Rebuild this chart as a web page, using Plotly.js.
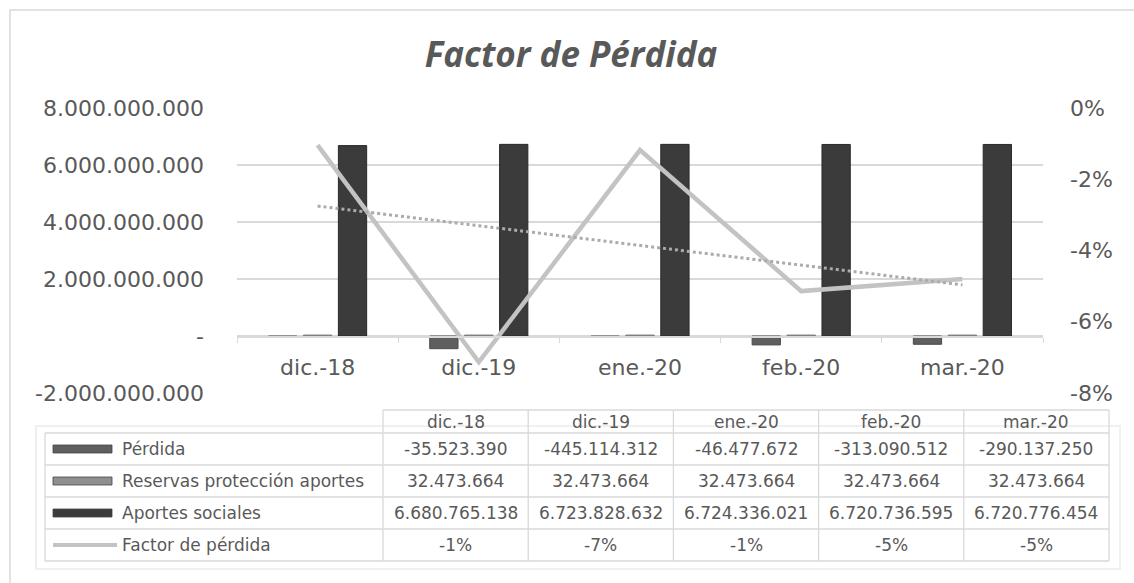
<!DOCTYPE html>
<html>
<head>
<meta charset="utf-8">
<script src="https://cdn.plot.ly/plotly-3.0.1.min.js"></script>
<style>html,body{margin:0;padding:0;background:#fff;}#chart{width:1134px;height:583px;}</style>
</head>
<body>
<div id="chart"></div>
<script>
const categories = ['dic.-18', 'dic.-19', 'ene.-20', 'feb.-20', 'mar.-20'];
const perdida = [-35523390, -445114312, -46477672, -313090512, -290137250];
const reservas = [32473664, 32473664, 32473664, 32473664, 32473664];
const aportes = [6680765138, 6723828632, 6724336021, 6720736595, 6720776454];
const factor = [-0.0104, -0.0713, -0.0118, -0.0514, -0.048];
const seriesNames = ['Pérdida', 'Reservas protección aportes', 'Aportes sociales', 'Factor de pérdida'];
const leftTickVals = [-2000000000, 0, 2000000000, 4000000000, 6000000000, 8000000000];
const leftTickText = ['-2.000.000.000', '-', '2.000.000.000', '4.000.000.000', '6.000.000.000', '8.000.000.000'];
const rightTickVals = [0, -0.02, -0.04, -0.06, -0.08];
const rightTickText = ['0%', '-2%', '-4%', '-6%', '-8%'];

const TXT = '#595959';
const GRID = '#d9d9d9';
const FONT = 'DejaVu Sans, sans-serif';
const colPerdida = '#5f5f5f', colReservas = '#8f8f8f', colAportes = '#3b3b3b', colFactor = '#c3c3c3';

// linear trendline (least squares) of factor over category index
const n = factor.length;
const xs = factor.map((_, i) => i);
const mx = xs.reduce((a, b) => a + b, 0) / n;
const my = factor.reduce((a, b) => a + b, 0) / n;
let sxy = 0, sxx = 0;
for (let i = 0; i < n; i++) { sxy += (xs[i] - mx) * (factor[i] - my); sxx += (xs[i] - mx) ** 2; }
const slope = sxy / sxx;
const trend = xs.map(x => my + slope * (x - mx));

function fmt(v) {
  const s = Math.abs(Math.round(v)).toString().replace(/\B(?=(\d{3})+(?!\d))/g, '.');
  return (v < 0 ? '-' : '') + s;
}
function pct(v) { return Math.round(v * 100) + '%'; }

// pixel -> paper helpers (plot area 237..1043 x, 108..393 y)
const L = 237, R = 1043, T = 108, B = 393;
const X = px => (px - L) / (R - L);
const Y = py => (B - py) / (B - T);

const traces = [
  {type: 'bar', name: seriesNames[0], x: categories, y: perdida, marker: {color: colPerdida, line: {color: '#4a4a4a', width: 1}}},
  {type: 'bar', name: seriesNames[1], x: categories, y: reservas, marker: {color: colReservas, line: {color: '#7a7a7a', width: 1}}},
  {type: 'bar', name: seriesNames[2], x: categories, y: aportes, marker: {color: colAportes, line: {color: '#2a2a2a', width: 1}}},
  {type: 'scatter', mode: 'lines', name: seriesNames[3], x: categories, y: factor, yaxis: 'y2', line: {color: colFactor, width: 4.5}},
  {type: 'scatter', mode: 'lines', name: 'Tendencia', x: categories, y: trend, yaxis: 'y2', line: {color: '#ababab', width: 3, dash: 'dot'}}
];

const shapes = [];
const annotations = [];
// outer frame (right and bottom edges fall outside the picture)
shapes.push({type: 'rect', xref: 'paper', yref: 'paper', x0: X(10), x1: X(1145), y0: Y(10), y1: Y(595), line: {color: GRID, width: 1.5}});
// faint table outline
shapes.push({type: 'rect', xref: 'paper', yref: 'paper', x0: X(36), x1: X(1120), y0: Y(426), y1: Y(569), line: {color: '#f0f0f0', width: 2}});

// data table
const tLeft = 45, tFirst = 383, tRight = 1109, tHead = 410;
const rowEdges = [433, 465, 497, 529, 561];
const colW = (tRight - tFirst) / categories.length;
const lineStyle = {color: GRID, width: 1.3};
shapes.push({type: 'line', xref: 'paper', yref: 'paper', x0: X(tFirst), x1: X(tRight), y0: Y(tHead), y1: Y(tHead), line: lineStyle});
rowEdges.forEach(ry => shapes.push({type: 'line', xref: 'paper', yref: 'paper', x0: X(tLeft), x1: X(tRight), y0: Y(ry), y1: Y(ry), line: lineStyle}));
shapes.push({type: 'line', xref: 'paper', yref: 'paper', x0: X(tLeft), x1: X(tLeft), y0: Y(rowEdges[0]), y1: Y(rowEdges[4]), line: lineStyle});
for (let c = 0; c <= categories.length; c++) {
  const cx = tFirst + c * colW;
  shapes.push({type: 'line', xref: 'paper', yref: 'paper', x0: X(cx), x1: X(cx), y0: Y(tHead), y1: Y(rowEdges[4]), line: lineStyle});
}
const tFont = {family: FONT, size: 17, color: TXT};
categories.forEach((c, i) => {
  annotations.push({xref: 'paper', yref: 'paper', x: X(tFirst + colW * (i + 0.5)), y: Y((tHead + rowEdges[0]) / 2), text: c, showarrow: false, xanchor: 'center', yanchor: 'middle', font: tFont});
});
const rows = [perdida.map(fmt), reservas.map(fmt), aportes.map(fmt), factor.map(pct)];
const keyColors = [colPerdida, colReservas, colAportes, colFactor];
rows.forEach((vals, r) => {
  const cy = (rowEdges[r] + rowEdges[r + 1]) / 2;
  if (r < 3) {
    shapes.push({type: 'rect', xref: 'paper', yref: 'paper', x0: X(53), x1: X(112), y0: Y(cy - 4), y1: Y(cy + 4), fillcolor: keyColors[r], line: {color: '#444', width: 0.8}});
  } else {
    shapes.push({type: 'line', xref: 'paper', yref: 'paper', x0: X(53), x1: X(117), y0: Y(cy), y1: Y(cy), line: {color: keyColors[r], width: 4}});
  }
  annotations.push({xref: 'paper', yref: 'paper', x: X(120), y: Y(cy), text: seriesNames[r], showarrow: false, xanchor: 'left', yanchor: 'middle', font: tFont});
  vals.forEach((v, i) => {
    annotations.push({xref: 'paper', yref: 'paper', x: X(tFirst + colW * (i + 0.5)), y: Y(cy), text: v, showarrow: false, xanchor: 'center', yanchor: 'middle', font: tFont});
  });
});

const layout = {
  width: 1134, height: 583,
  margin: {l: L, r: 1134 - R, t: T, b: 583 - B, pad: 0},
  paper_bgcolor: '#fff', plot_bgcolor: '#fff',
  showlegend: false,
  barmode: 'group', bargap: 0.35, bargroupgap: 0.19,
  title: {text: '<b><i>Factor de Pérdida</i></b>', x: 571 / 1134, xanchor: 'center', y: 1 - 55 / 583, yanchor: 'middle', yref: 'container',
          font: {family: 'Open Sans, sans-serif', size: 35, color: TXT}},
  xaxis: {type: 'category', anchor: 'free', position: Y(336), showline: true, linecolor: GRID, linewidth: 1.5,
          ticks: 'outside', tickson: 'boundaries', ticklen: 5, tickcolor: GRID, showgrid: false,
          ticklabelstandoff: 11, tickfont: {family: FONT, size: 22, color: TXT}},
  yaxis: {range: [-2000000000, 8000000000], tickvals: leftTickVals, ticktext: leftTickText, showgrid: true, gridcolor: GRID, gridwidth: 1.5,
          zeroline: false, showline: false, ticks: '', ticklabelstandoff: 32, tickfont: {family: FONT, size: 22, color: TXT}},
  yaxis2: {overlaying: 'y', side: 'right', range: [-0.08, 0], tickvals: rightTickVals, ticktext: rightTickText, showgrid: false, zeroline: false,
           showline: false, ticks: '', ticklabelstandoff: 26, tickfont: {family: FONT, size: 22, color: TXT}},
  shapes: shapes,
  annotations: annotations
};

Plotly.newPlot('chart', traces, layout, {displayModeBar: false, staticPlot: true});
</script>
</body>
</html>
